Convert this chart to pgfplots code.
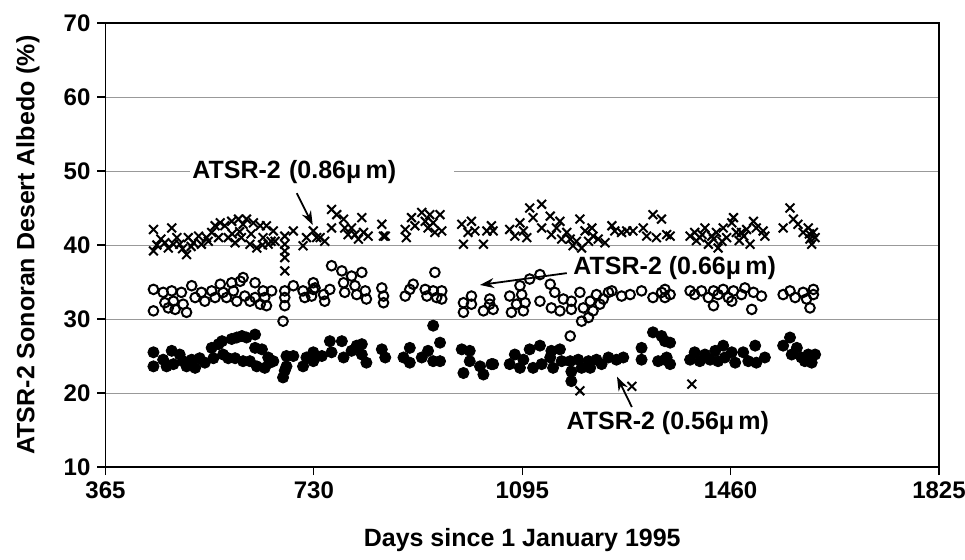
\documentclass[border=0pt]{standalone}
\usepackage{fontspec}
\setmainfont{Liberation Sans}
\usepackage{pgfplots}
\pgfplotsset{compat=1.18}
\usetikzlibrary{arrows.meta}
\begin{document}
\begin{tikzpicture}
\useasboundingbox (0,0) rectangle (482.5pt,279.5pt);
\begin{axis}[
  at={(52.75pt,46pt)}, anchor=south west,
  width=416.75pt, height=222pt, scale only axis,
  xmin=365, xmax=1825, ymin=10, ymax=70,
  xtick={365,730,1095,1460,1825}, ytick={10,20,30,40,50,60,70},
  tick align=outside, tick pos=left, major tick length=4pt,
  ymajorgrids, grid style={gray!80, line width=0.5pt},
  axis line style={line width=0.9pt},
  tick style={black, line width=0.6pt},
  /pgf/number format/assume math mode=true,
  /pgf/number format/set thousands separator={},
  ticklabel style={font=\fontsize{12}{14}\selectfont\bfseries},
  xlabel={Days since 1 January 1995},
  ylabel={ATSR-2 Sonoran Desert Albedo (\%)},
  label style={font=\fontsize{12.5}{15}\selectfont\bfseries},
  xlabel style={at={(axis description cs:0.5,-0.164)}, anchor=center},
  ylabel style={at={(axis description cs:-0.093,0.5)}, anchor=center},
  clip=false,
]
% 0.56 um (filled circles)
\addplot[only marks, mark=*, mark size=2.8pt, black] coordinates {
(449,25.5) (449,23.6) (466,24.5) (472,23.6) (481,25.7) (484,23.9) (495,25.2) (501,24.3)
(507,23.6) (516,24.5) (522,23.4) (530,24.7) (539,24.1) (551,26.1) (554,24.7) (563,26.6)
(569,27.0) (571,25.2) (580,24.7) (586,27.3) (592,24.7) (595,27.5) (604,27.7) (606,24.3)
(612,27.5) (618,24.3) (627,27.9) (627,26.1) (630,23.6) (639,25.9) (644,23.4) (650,24.8)
(653,24.1) (659,24.3) (682,25.0) (682,23.6) (679,23.0) (676,22.1) (694,25.0) (711,23.6)
(717,24.8) (729,25.5) (729,24.3) (732,24.8) (744,25.0) (758,27.0) (761,25.5) (779,27.0)
(782,24.8) (796,25.7) (805,26.4) (814,26.6) (814,25.2) (822,24.1) (849,25.9) (855,24.8)
(887,24.8) (898,26.1) (898,24.1) (919,24.8) (930,25.7) (939,29.1) (939,24.3) (951,26.8)
(951,24.3) (989,25.9) (992,22.7) (1003,25.7) (1003,24.3) (1021,23.6) (1027,22.5) (1041,23.9)
(1044,23.9) (1073,23.9) (1082,25.2) (1091,23.4) (1097,24.5) (1108,25.9) (1114,23.4) (1126,26.4)
(1129,23.9) (1144,24.8) (1146,25.7) (1149,23.4) (1161,25.9) (1164,24.3) (1179,24.3) (1181,21.6)
(1181,22.9) (1193,24.5) (1199,23.4) (1211,24.3) (1214,23.4) (1225,24.5) (1234,23.9) (1246,24.8)
(1260,24.5) (1272,24.8) (1304,26.1) (1304,24.5) (1324,28.2) (1333,24.3) (1339,27.7) (1345,24.5)
(1354,26.8) (1345,27.0) (1348,24.8) (1354,23.9) (1389,24.5) (1397,25.5) (1406,24.3) (1415,25.2)
(1424,24.5) (1433,25.7) (1438,24.3) (1447,26.4) (1450,24.8) (1462,25.5) (1468,24.1) (1482,25.5)
(1491,24.3) (1503,26.4) (1505,24.1) (1520,24.8) (1552,26.4) (1564,27.5) (1567,25.2) (1576,26.1)
(1584,24.8) (1590,24.3) (1596,25.2) (1602,24.1) (1608,25.2)
};
% 0.66 um (open circles)
\addplot[only marks, mark=o, mark size=2.4pt, black, mark options={line width=1pt, fill=white}] coordinates {
(449,34.0) (449,31.1) (466,33.6) (469,32.2) (481,33.8) (475,31.5) (484,32.4) (487,31.3)
(498,33.6) (501,32.0) (507,30.9) (516,34.5) (522,32.9) (533,33.6) (539,32.4) (551,33.8)
(557,32.9) (566,34.7) (571,33.6) (577,32.9) (586,34.9) (589,33.8) (595,32.4) (601,35.1)
(606,35.6) (609,33.1) (618,32.4) (627,34.9) (627,32.9) (636,32.0) (641,33.8) (644,32.9)
(656,33.8) (647,31.8) (679,33.8) (679,32.9) (679,31.8) (676,29.7) (694,34.5) (711,33.8)
(714,32.9) (729,34.9) (729,34.0) (726,33.1) (732,34.2) (747,33.3) (749,32.4) (758,34.0)
(761,37.2) (779,36.5) (782,34.9) (784,33.6) (796,35.8) (802,34.5) (805,33.3) (814,36.3)
(820,33.8) (822,32.7) (849,34.2) (852,33.1) (852,32.2) (890,33.1) (898,34.0) (904,34.7)
(925,34.0) (928,33.1) (939,33.8) (942,36.3) (945,32.9) (954,33.8) (954,32.7) (992,32.2)
(992,30.9) (1006,33.1) (1006,32.0) (1027,31.1) (1038,32.0) (1038,32.7) (1044,31.3) (1073,33.1)
(1076,30.9) (1085,32.0) (1091,34.5) (1094,33.3) (1097,31.1) (1100,32.2) (1108,35.4) (1126,36.0)
(1126,32.4) (1144,34.7) (1146,31.5) (1152,33.6) (1161,31.1) (1167,32.7) (1181,32.4) (1181,31.3)
(1179,27.7) (1196,33.6) (1199,29.7) (1202,31.5) (1211,30.2) (1214,32.4) (1219,31.1) (1225,33.3)
(1231,32.0) (1237,32.7) (1246,33.6) (1252,33.8) (1269,33.1) (1284,33.3) (1304,33.8) (1324,32.9)
(1339,33.6) (1354,33.3) (1345,34.0) (1345,32.9) (1389,33.8) (1397,33.3) (1409,33.8) (1421,32.9)
(1430,31.8) (1430,33.8) (1438,33.3) (1447,34.0) (1456,32.9) (1462,32.4) (1465,33.8) (1479,33.3)
(1485,34.2) (1497,31.3) (1500,33.6) (1514,33.1) (1552,33.3) (1564,33.8) (1573,32.9) (1587,33.6)
(1593,32.7) (1599,31.5) (1605,33.3) (1605,34.0)
};
% 0.86 um (crosses)
\addplot[only marks, mark=x, mark size=3.1pt, black, mark options={line width=1pt}] coordinates {
(449,42.1) (449,39.2) (455,40.0) (462,40.8) (469,40.3) (475,39.6) (481,42.3) (484,40.1)
(490,41.0) (495,40.1) (500,39.5) (507,38.7) (510,41.0) (515,39.8) (519,40.3) (528,41.2)
(533,40.1) (542,41.0) (545,40.5) (551,41.7) (557,42.6) (563,41.0) (566,43.0) (574,42.6)
(580,41.0) (586,43.2) (587,41.5) (592,40.3) (598,43.5) (600,41.8) (603,41.0) (606,42.8)
(612,43.5) (618,40.1) (620,41.5) (624,43.0) (630,39.6) (636,42.6) (640,40.0) (641,41.0)
(647,42.6) (650,40.1) (655,40.5) (659,41.9) (662,40.5) (679,41.2) (679,40.1) (679,39.2)
(679,38.3) (679,36.5) (694,41.9) (711,39.9) (717,41.0) (729,41.9) (735,41.0) (741,41.0)
(749,40.5) (761,44.8) (761,42.3) (770,44.1) (782,43.5) (784,42.3) (790,41.4) (796,42.3)
(802,41.4) (808,40.8) (814,43.7) (817,41.7) (825,41.2) (849,42.8) (852,41.2) (855,41.2)
(890,42.1) (892,41.0) (901,43.7) (907,42.6) (919,44.4) (925,43.2) (930,42.3) (933,44.1)
(939,43.0) (942,41.7) (951,44.1) (954,41.9) (989,42.8) (992,40.1) (1000,41.7) (1006,43.2)
(1012,41.9) (1027,40.1) (1033,41.9) (1041,42.6) (1044,41.9) (1073,42.1) (1082,41.2) (1091,43.0)
(1097,41.9) (1103,41.0) (1108,45.0) (1114,43.7) (1129,45.5) (1129,42.3) (1144,43.9) (1146,41.4)
(1155,42.3) (1161,43.2) (1164,40.8) (1173,41.7) (1179,40.8) (1184,39.9) (1190,40.5) (1196,43.5)
(1199,39.6) (1205,41.9) (1211,40.5) (1217,42.3) (1219,41.2) (1228,40.8) (1240,40.3) (1252,42.6)
(1257,41.9) (1269,41.7) (1278,41.9) (1289,41.9) (1307,42.3) (1313,41.2) (1324,44.1) (1330,41.0)
(1339,43.5) (1348,41.4) (1354,41.2) (1389,41.2) (1397,41.7) (1400,40.6) (1406,41.0) (1410,41.4)
(1415,42.3) (1421,40.1) (1427,41.2) (1430,40.8) (1435,41.7) (1438,39.6) (1445,40.5) (1447,42.3)
(1453,41.0) (1462,43.0) (1465,43.7) (1470,41.7) (1475,40.6) (1479,41.7) (1483,41.2) (1488,42.1)
(1494,40.1) (1500,43.2) (1505,42.3) (1517,41.9) (1520,41.2) (1552,42.3) (1564,45.0) (1570,43.5)
(1578,42.8) (1587,41.7) (1596,42.3) (1598,41.5) (1599,40.8) (1602,40.1) (1605,41.7) (1608,41.0)
(1196,20.3) (1287,20.9) (1392,21.2)
};
% annotations
\node[anchor=west, fill=white, inner sep=1pt, text width=130pt, align=left,
      font=\fontsize{12.5}{15}\selectfont\bfseries] at (axis cs:513,49.9) {ATSR-2 (0.86μ\,m)};
\draw[line width=0.9pt, -{Stealth[length=7pt,width=5pt]}] (axis cs:700,47.0) -- (axis cs:728,42.7);
\node[fill=white, inner sep=1pt, font=\fontsize{12.5}{15}\selectfont\bfseries] at (axis cs:1362,36.9) {ATSR-2 (0.66μ\,m)};
\draw[line width=0.9pt, -{Stealth[length=7pt,width=5pt]}] (axis cs:1173,36.2) -- (axis cs:1021,34.6);
\node[fill=white, inner sep=1pt, font=\fontsize{12.5}{15}\selectfont\bfseries] at (axis cs:1350,16.0) {ATSR-2 (0.56μ\,m)};
\draw[line width=0.9pt, -{Stealth[length=7pt,width=5pt]}] (axis cs:1287,18.1) -- (axis cs:1261,22.2);
\end{axis}
\end{tikzpicture}
\end{document}
